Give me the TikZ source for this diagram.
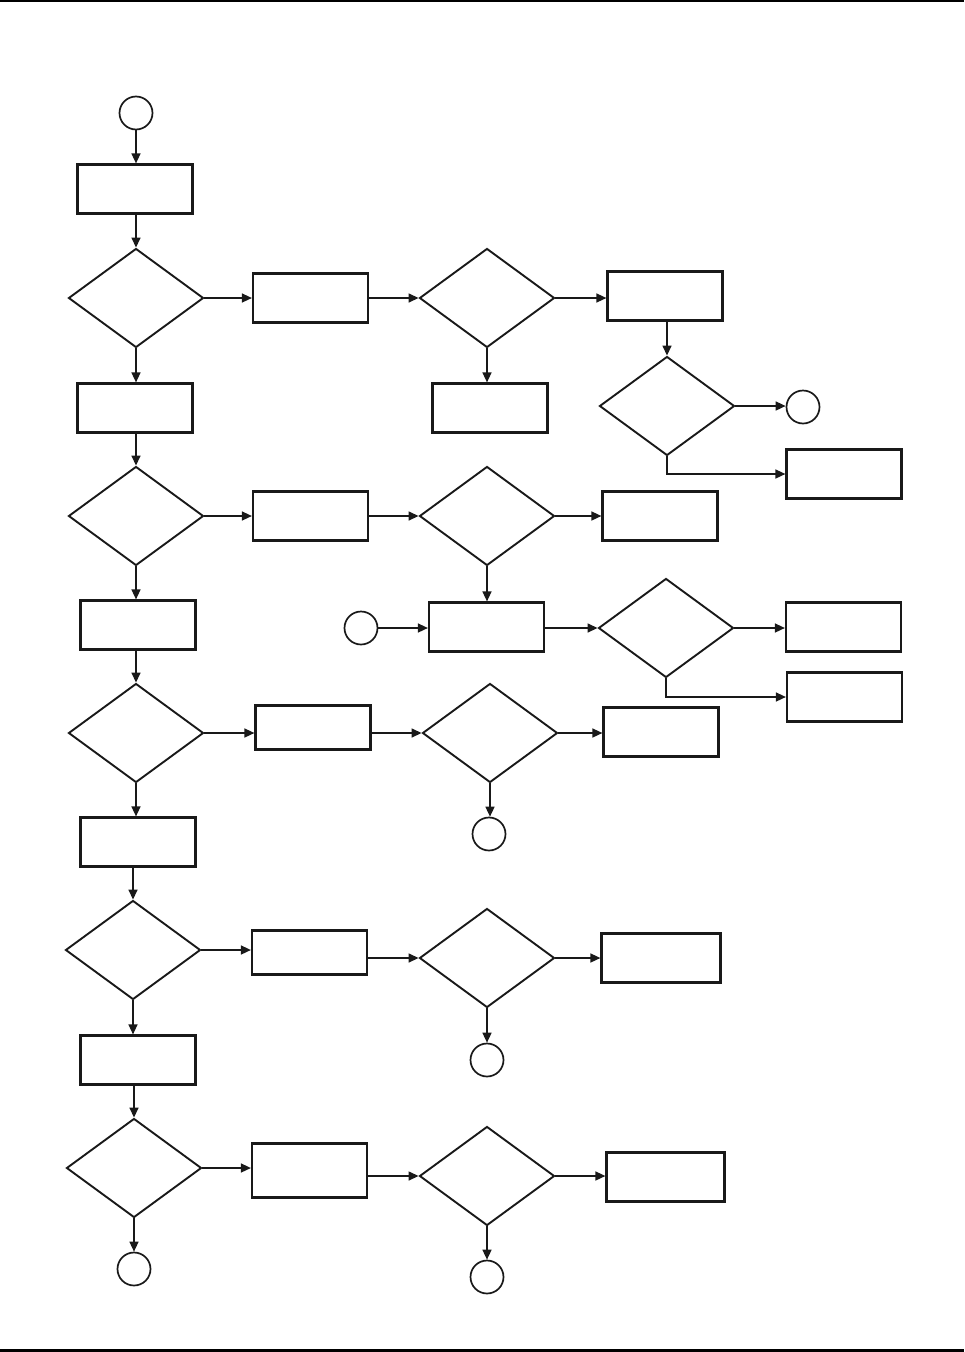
\documentclass[tikz,border=0pt]{standalone}
\usetikzlibrary{shapes.geometric,arrows.meta}
\begin{document}
\begin{tikzpicture}[x=1pt,y=-1pt,
  box/.style={draw=black!90,line width=2.2pt,rectangle,inner sep=0pt,minimum width=115pt,minimum height=49pt},
  dia/.style={draw=black!90,line width=1.9pt,diamond,inner sep=0pt,minimum width=135pt,minimum height=99pt},
  term/.style={draw=black!90,line width=1.7pt,circle,inner sep=0pt,minimum size=33pt},
  conn/.style={draw=black!90,line width=1.5pt,-{Triangle[length=10pt,width=9pt]}}]
\useasboundingbox (0,0) rectangle (964,1352);
\fill[black] (0,0) rectangle (964,2);
\fill[black] (0,1349) rectangle (964,1352);
% row 0
\node[term] (c0) at (136,113) {};
\node[box] (b1) at (135,189) {};
% row 1
\node[dia] (d1) at (136,298) {};
\node[box] (r1) at (310.5,298) {};
\node[dia] (m1) at (487,298) {};
\node[box] (f1) at (665,296) {};
\node[dia] (fd1) at (667,406) {};
\node[term] (fc1) at (803,407) {};
\node[box] (fb1) at (844,474) {};
\node[box] (mb1) at (490,408) {};
% row 2
\node[box] (b2) at (135,408) {};
\node[dia] (d2) at (136,516) {};
\node[box] (r2) at (310.5,516) {};
\node[dia] (m2) at (487,516) {};
\node[box] (f2) at (660,516) {};
\node[box] (mb2) at (486.5,627) {};
\node[term] (lc2) at (361,628) {};
\node[dia] (fd2) at (666,628) {};
\node[box] (fb2a) at (843.5,627) {};
\node[box] (fb2b) at (844.5,697) {};
% row 3
\node[box] (b3) at (138,625) {};
\node[dia] (d3) at (136,733) {};
\node[box,minimum height=44pt] (r3) at (313,727.5) {};
\node[dia] (m3) at (490,733) {};
\node[box] (f3) at (661,732) {};
\node[term] (mc3) at (489,834) {};
% row 4
\node[box] (b4) at (138,842) {};
\node[dia] (d4) at (133,950) {};
\node[box,minimum height=44pt] (r4) at (309.5,952.5) {};
\node[dia] (m4) at (487,958) {};
\node[box,minimum width=119pt] (f4) at (661,958) {};
\node[term] (mc4) at (487,1060) {};
% row 5
\node[box] (b5) at (138,1060) {};
\node[dia] (d5) at (134,1168) {};
\node[box,minimum height=54pt] (r5) at (309.5,1170.5) {};
\node[dia] (m5) at (487,1176) {};
\node[box,minimum width=118pt] (f5) at (665.5,1177) {};
\node[term] (lc5) at (134,1269) {};
\node[term] (mc5) at (487,1277) {};
% connectors
\draw[conn] (c0.south) -- (c0.south |- b1.north);
\draw[conn] (d1.north |- b1.south) -- (d1.north);
\draw[conn] (d1.east) -- (r1.west |- d1.east);
\draw[conn] (r1.east |- m1.west) -- (m1.west);
\draw[conn] (m1.east) -- (f1.west |- m1.east);
\draw[conn] (fd1.north |- f1.south) -- (fd1.north);
\draw[conn] (fd1.east) -- (fd1.east -| fc1.west);
\draw[conn] (fd1.south) |- (fb1.west);
\draw[conn] (m1.south) -- (m1.south |- mb1.north);
\draw[conn] (d1.south) -- (d1.south |- b2.north);
\draw[conn] (d2.north |- b2.south) -- (d2.north);
\draw[conn] (d2.east) -- (r2.west |- d2.east);
\draw[conn] (r2.east |- m2.west) -- (m2.west);
\draw[conn] (m2.east) -- (f2.west |- m2.east);
\draw[conn] (m2.south) -- (m2.south |- mb2.north);
\draw[conn] (lc2.east) -- (mb2.west |- lc2.east);
\draw[conn] (mb2.east |- fd2.west) -- (fd2.west);
\draw[conn] (fd2.east) -- (fb2a.west |- fd2.east);
\draw[conn] (fd2.south) |- (fb2b.west);
\draw[conn] (d2.south) -- (d2.south |- b3.north);
\draw[conn] (d3.north |- b3.south) -- (d3.north);
\draw[conn] (d3.east) -- (r3.west |- d3.east);
\draw[conn] (r3.east |- m3.west) -- (m3.west);
\draw[conn] (m3.east) -- (f3.west |- m3.east);
\draw[conn] (m3.south) -- (m3.south |- mc3.north);
\draw[conn] (d3.south) -- (d3.south |- b4.north);
\draw[conn] (d4.north |- b4.south) -- (d4.north);
\draw[conn] (d4.east) -- (r4.west |- d4.east);
\draw[conn] (r4.east |- m4.west) -- (m4.west);
\draw[conn] (m4.east) -- (f4.west |- m4.east);
\draw[conn] (m4.south) -- (m4.south |- mc4.north);
\draw[conn] (d4.south) -- (d4.south |- b5.north);
\draw[conn] (d5.north |- b5.south) -- (d5.north);
\draw[conn] (d5.east) -- (r5.west |- d5.east);
\draw[conn] (r5.east |- m5.west) -- (m5.west);
\draw[conn] (m5.east) -- (f5.west |- m5.east);
\draw[conn] (m5.south) -- (m5.south |- mc5.north);
\draw[conn] (d5.south) -- (d5.south |- lc5.north);
\end{tikzpicture}
\end{document}
